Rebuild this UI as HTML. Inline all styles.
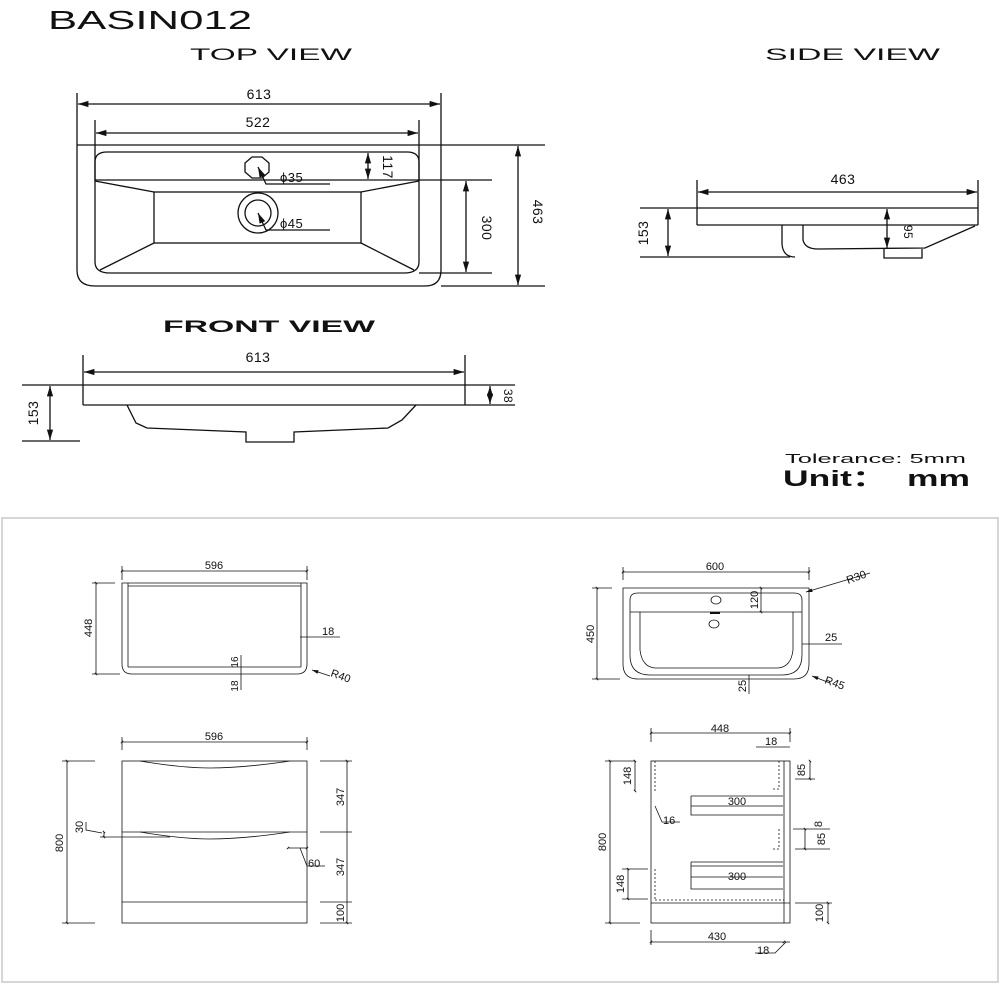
<!DOCTYPE html>
<html><head><meta charset="utf-8"><style>
html,body{margin:0;padding:0;background:#fff;width:1000px;height:1000px;overflow:hidden}
svg{display:block}
text{font-family:"Liberation Sans",sans-serif;fill:#111}
</style></head><body>
<svg width="1000" height="1000" viewBox="0 0 1000 1000" xmlns="http://www.w3.org/2000/svg">
<defs>
<marker id="a" viewBox="0 0 10 10" refX="10" refY="5" markerWidth="8" markerHeight="8" orient="auto-start-reverse"><path d="M0,2 L10,5 L0,8 z" fill="#111"/></marker>
<marker id="t" viewBox="0 0 10 10" refX="5" refY="5" markerWidth="5" markerHeight="5" orient="auto-start-reverse"><path d="M2,8 L8,2" stroke="#111" stroke-width="2"/></marker>
</defs>
<text x="48" y="29" font-size="26" textLength="204" lengthAdjust="spacingAndGlyphs">BASIN012</text>
<text x="190" y="60" font-size="17" textLength="162" lengthAdjust="spacingAndGlyphs">TOP VIEW</text>
<text x="765" y="60" font-size="17" textLength="175" lengthAdjust="spacingAndGlyphs">SIDE VIEW</text>
<text x="163" y="332" font-size="17" font-weight="bold" textLength="212" lengthAdjust="spacingAndGlyphs">FRONT VIEW</text>
<text x="785" y="463" font-size="13" textLength="181" lengthAdjust="spacingAndGlyphs">Tolerance: 5mm</text>
<text x="783" y="486" font-size="22" font-weight="bold" textLength="187" lengthAdjust="spacingAndGlyphs">Unit：&#160;&#160;mm</text>

<g stroke="#111" stroke-width="1.3" fill="none">
<line x1="77" y1="93" x2="77" y2="270"/><line x1="441" y1="93" x2="441" y2="270"/>
<line x1="78" y1="104" x2="440" y2="104" marker-start="url(#a)" marker-end="url(#a)"/>
<line x1="95" y1="120" x2="95" y2="180"/><line x1="419" y1="120" x2="419" y2="180"/>
<line x1="96" y1="133" x2="418" y2="133" marker-start="url(#a)" marker-end="url(#a)"/>
<line x1="77" y1="145" x2="545" y2="145"/>
<path d="M77,270 Q77,286 95,286 L425,286 Q441,286 441,270"/>
<path d="M95,180 L95,162 Q95,152 107,152 L407,152 Q419,152 419,162 L419,180"/>
<path d="M95,180 L95,262 Q95,273 110,273 L404,273 Q419,273 419,262 L419,180"/>
<line x1="95" y1="180" x2="492" y2="180"/>
<rect x="154" y="192" width="207" height="51"/>
<line x1="95" y1="181" x2="154" y2="192"/><line x1="419" y1="181" x2="361" y2="192"/>
<line x1="100" y1="270" x2="154" y2="243"/><line x1="414" y1="270" x2="361" y2="243"/>
<polygon points="252,157 262,157 269,163 269,172 262,178 252,178 245,172 245,163"/>
<circle cx="258" cy="213" r="20"/><circle cx="258" cy="213" r="13"/>
<polyline points="258,167 266,184 330,184" marker-start="url(#a)"/>
<polyline points="258,213 266,230 330,230" marker-start="url(#a)"/>
<line x1="368" y1="153" x2="368" y2="179" marker-start="url(#a)" marker-end="url(#a)"/>
<line x1="419" y1="273" x2="492" y2="273"/>
<line x1="466" y1="181" x2="466" y2="272" marker-start="url(#a)" marker-end="url(#a)"/>
<line x1="441" y1="286" x2="545" y2="286"/>
<line x1="518" y1="146" x2="518" y2="285" marker-start="url(#a)" marker-end="url(#a)"/>
<line x1="83" y1="355" x2="83" y2="405"/><line x1="465" y1="355" x2="465" y2="405"/>
<line x1="84" y1="372" x2="464" y2="372" marker-start="url(#a)" marker-end="url(#a)"/>
<line x1="22" y1="385" x2="515" y2="385"/>
<line x1="83" y1="405" x2="515" y2="405"/>
<polyline points="127,405 136,423 147,428 246,432 246,442 294,442 294,432 388,428 402,420 416,405"/>
<line x1="22" y1="441" x2="80" y2="441"/>
<line x1="50" y1="386" x2="50" y2="440" marker-start="url(#a)" marker-end="url(#a)"/>
<line x1="490" y1="386" x2="490" y2="404" marker-start="url(#a)" marker-end="url(#a)"/>
<line x1="697" y1="180" x2="697" y2="225"/><line x1="978" y1="180" x2="978" y2="225"/>
<line x1="698" y1="192" x2="977" y2="192" marker-start="url(#a)" marker-end="url(#a)"/>
<line x1="640" y1="208" x2="978" y2="208"/>
<line x1="697" y1="225" x2="978" y2="225"/>
<line x1="640" y1="257" x2="790" y2="257"/>
<line x1="668" y1="209" x2="668" y2="256" marker-start="url(#a)" marker-end="url(#a)"/>
<line x1="887" y1="209" x2="887" y2="248" marker-start="url(#a)" marker-end="url(#a)"/>
<path d="M782,225 L782,244 Q783,257 795,257"/>
<path d="M803,225 L803,240 Q805,249 818,249 L925,248 L975,226"/>
<polyline points="884,249 884,258 922,258 922,249"/>
</g>
<g font-size="14" letter-spacing="0.5">
<text x="259" y="99" text-anchor="middle">613</text>
<text x="258" y="127" text-anchor="middle">522</text>
<text x="280" y="182" font-size="13">ϕ35</text>
<text x="280" y="228" font-size="13">ϕ45</text>
<text transform="translate(383,167) rotate(90)" text-anchor="middle">117</text>
<text transform="translate(482,228) rotate(90)" text-anchor="middle">300</text>
<text transform="translate(533,212) rotate(90)" text-anchor="middle">463</text>
<text x="258" y="362" text-anchor="middle">613</text>
<text transform="translate(38,413) rotate(-90)" text-anchor="middle">153</text>
<text transform="translate(504,396) rotate(90)" text-anchor="middle" font-size="12">38</text>
<text x="843" y="184" text-anchor="middle">463</text>
<text transform="translate(648,233) rotate(-90)" text-anchor="middle">153</text>
<text transform="translate(904,232) rotate(90)" text-anchor="middle" font-size="12">95</text>
</g>

<rect x="2" y="518" width="996" height="464" fill="none" stroke="#c8c8c8" stroke-width="1.5"/>

<g stroke="#111" stroke-width="0.8" fill="none">
<line x1="122" y1="566" x2="122" y2="580"/><line x1="307" y1="566" x2="307" y2="580"/>
<line x1="122" y1="571" x2="307" y2="571" marker-start="url(#t)" marker-end="url(#t)"/>
<path d="M122,583 L307,583 L307,664 Q307,674 297,674 L132,674 Q122,674 122,664 Z"/>
<path d="M128,583 L128,667 M301,583 L301,667 M128,586 L301,586 M128,667 L301,667"/>
<line x1="92" y1="583" x2="115" y2="583"/><line x1="92" y1="674" x2="120" y2="674"/>
<line x1="96" y1="583" x2="96" y2="674" marker-start="url(#t)" marker-end="url(#t)"/>
<line x1="300" y1="637" x2="340" y2="637"/>
<line x1="241" y1="655" x2="241" y2="690"/>
<line x1="312" y1="670" x2="330" y2="676" marker-start="url(#a)"/>
<line x1="122" y1="737" x2="122" y2="750"/><line x1="307" y1="737" x2="307" y2="750"/>
<line x1="122" y1="742" x2="307" y2="742" marker-start="url(#t)" marker-end="url(#t)"/>
<rect x="122" y="761" width="185" height="162"/>
<line x1="122" y1="832" x2="307" y2="832"/>
<line x1="122" y1="902" x2="307" y2="902"/>
<path d="M140,761 C170,766 190,768 210,768 C240,768 270,764 290,761"/>
<path d="M140,832 C170,837 190,839 210,839 C240,839 270,835 290,832"/>
<line x1="62" y1="761" x2="95" y2="761"/><line x1="62" y1="923" x2="95" y2="923"/>
<line x1="67" y1="761" x2="67" y2="923" marker-start="url(#t)" marker-end="url(#t)"/>
<line x1="100" y1="837" x2="170" y2="837"/>
<polyline points="86,822 86,830 102,833"/>
<line x1="104" y1="832" x2="104" y2="837" marker-start="url(#t)" marker-end="url(#t)"/>
<line x1="288" y1="848" x2="307" y2="848" marker-start="url(#t)" marker-end="url(#t)"/>
<polyline points="300,848 307,866 325,866"/>
<line x1="320" y1="761" x2="352" y2="761"/><line x1="320" y1="832" x2="352" y2="832"/>
<line x1="320" y1="902" x2="352" y2="902"/><line x1="320" y1="923" x2="352" y2="923"/>
<line x1="347" y1="761" x2="347" y2="923" marker-start="url(#t)" marker-end="url(#t)"/>
<line x1="623" y1="567" x2="623" y2="580"/><line x1="809" y1="567" x2="809" y2="580"/>
<line x1="623" y1="572" x2="809" y2="572" marker-start="url(#t)" marker-end="url(#t)"/>
<path d="M623,588 L809,588 L809,664 Q809,679 794,679 L638,679 Q623,679 623,664 Z"/>
<path d="M630,612 L630,600 Q630,593 638,593 L794,593 Q802,593 802,600 L802,612 L802,655 Q802,675 782,675 L650,675 Q630,675 630,655 Z"/>
<line x1="630" y1="612" x2="802" y2="612"/>
<path d="M640,612 L640,650 Q642,667 655,668 L778,668 Q791,667 793,650 L793,612"/>
<ellipse cx="716" cy="600" rx="5" ry="4"/><ellipse cx="714" cy="624" rx="5" ry="4"/>
<line x1="710" y1="613" x2="720" y2="613" stroke-width="2"/>
<line x1="592" y1="588" x2="612" y2="588"/><line x1="592" y1="679" x2="620" y2="679"/>
<line x1="597" y1="588" x2="597" y2="679" marker-start="url(#t)" marker-end="url(#t)"/>
<line x1="761" y1="588" x2="761" y2="612" marker-start="url(#t)" marker-end="url(#t)"/>
<line x1="802" y1="644" x2="842" y2="644"/>
<line x1="749" y1="675" x2="749" y2="694"/>
<line x1="806" y1="592" x2="870" y2="573" marker-start="url(#a)"/>
<line x1="812" y1="676" x2="830" y2="683" marker-start="url(#a)"/>
<line x1="651" y1="728" x2="651" y2="742"/><line x1="790" y1="728" x2="790" y2="742"/>
<line x1="651" y1="733" x2="790" y2="733" marker-start="url(#t)" marker-end="url(#t)"/>
<line x1="756" y1="747" x2="790" y2="747"/>
<rect x="651" y="761" width="139" height="162"/>
<line x1="784" y1="761" x2="784" y2="923"/>
<line x1="651" y1="903" x2="790" y2="903"/>
<line x1="655" y1="900" x2="784" y2="900" stroke-dasharray="2,2"/>
<path d="M691,796 L783,796 M691,796 L691,815 L783,815 M691,806 L783,806"/>
<path d="M691,862 L783,862 M691,862 L691,889 L783,889 M691,866 L783,866 M691,877 L783,877"/>
<path d="M655,761 L655,791 M655,869 L655,899" stroke-dasharray="2,2"/>
<path d="M779,761 L779,789 L771,789 M779,829 L779,849 L771,849" stroke-dasharray="2,2"/>
<line x1="605" y1="761" x2="635" y2="761"/><line x1="605" y1="923" x2="640" y2="923"/>
<line x1="610" y1="761" x2="610" y2="923" marker-start="url(#t)" marker-end="url(#t)"/>
<line x1="635" y1="761" x2="635" y2="791" marker-start="url(#t)" marker-end="url(#t)"/>
<line x1="628" y1="869" x2="628" y2="899" marker-start="url(#t)" marker-end="url(#t)"/>
<line x1="622" y1="869" x2="648" y2="869"/><line x1="622" y1="899" x2="648" y2="899"/>
<polyline points="655,806 662,822 680,822"/>
<line x1="810" y1="761" x2="810" y2="779" marker-start="url(#t)" marker-end="url(#t)"/>
<line x1="795" y1="779" x2="815" y2="779"/>
<line x1="793" y1="829" x2="830" y2="829"/>
<line x1="805" y1="829" x2="805" y2="849" marker-start="url(#t)" marker-end="url(#t)"/>
<line x1="795" y1="849" x2="830" y2="849"/>
<line x1="828" y1="903" x2="828" y2="923" marker-start="url(#t)" marker-end="url(#t)"/>
<line x1="795" y1="903" x2="832" y2="903"/>
<line x1="651" y1="930" x2="651" y2="945"/>
<line x1="651" y1="942" x2="784" y2="942" marker-start="url(#t)" marker-end="url(#t)"/>
<line x1="784" y1="942" x2="790" y2="942"/>
<polyline points="786,942 775,953 755,953"/>
</g>
<g font-size="11">
<text x="214" y="569" text-anchor="middle">596</text>
<text transform="translate(92,628) rotate(-90)" text-anchor="middle">448</text>
<text x="322" y="635">18</text>
<text transform="translate(238,662) rotate(-90)" text-anchor="middle" font-size="10">16</text>
<text transform="translate(238,686) rotate(-90)" text-anchor="middle" font-size="10">18</text>
<text transform="translate(330,676) rotate(20)">R40</text>
<text x="214" y="740" text-anchor="middle">596</text>
<text transform="translate(63,843) rotate(-90)" text-anchor="middle">800</text>
<text transform="translate(83,827) rotate(-90)" text-anchor="middle">30</text>
<text x="308" y="867">60</text>
<text transform="translate(344,797) rotate(-90)" text-anchor="middle">347</text>
<text transform="translate(344,867) rotate(-90)" text-anchor="middle">347</text>
<text transform="translate(344,913) rotate(-90)" text-anchor="middle">100</text>
<text x="715" y="570" text-anchor="middle">600</text>
<text transform="translate(594,634) rotate(-90)" text-anchor="middle">450</text>
<text transform="translate(758,600) rotate(-90)" text-anchor="middle">120</text>
<text x="825" y="641">25</text>
<text transform="translate(746,686) rotate(-90)" text-anchor="middle">25</text>
<text transform="translate(848,584) rotate(-20)">R30</text>
<text transform="translate(824,683) rotate(20)">R45</text>
<text x="720" y="732" text-anchor="middle">448</text>
<text x="765" y="745">18</text>
<text x="737" y="805" text-anchor="middle">300</text>
<text x="737" y="880" text-anchor="middle">300</text>
<text transform="translate(606,842) rotate(-90)" text-anchor="middle">800</text>
<text transform="translate(631,776) rotate(-90)" text-anchor="middle">148</text>
<text transform="translate(624,884) rotate(-90)" text-anchor="middle">148</text>
<text x="663" y="824">16</text>
<text transform="translate(805,770) rotate(-90)" text-anchor="middle">85</text>
<text transform="translate(822,824) rotate(-90)" text-anchor="middle">8</text>
<text transform="translate(825,839) rotate(-90)" text-anchor="middle">85</text>
<text transform="translate(823,913) rotate(-90)" text-anchor="middle">100</text>
<text x="717" y="940" text-anchor="middle">430</text>
<text x="757" y="954">18</text>
</g>
</svg>
</body></html>
